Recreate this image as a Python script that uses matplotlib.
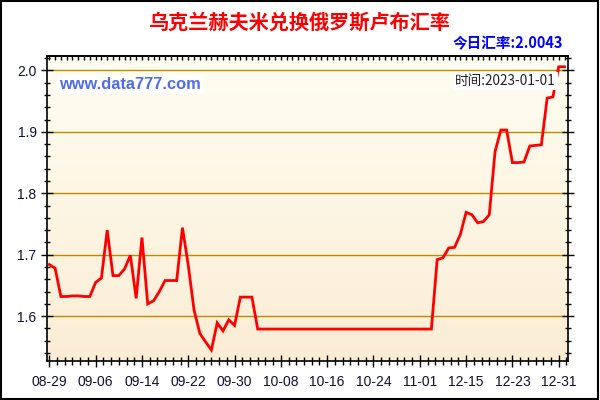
import numpy as np
import matplotlib
matplotlib.use("Agg")
import matplotlib.pyplot as plt
from matplotlib.patches import Rectangle
from matplotlib.ticker import MultipleLocator, FixedLocator

plt.rcParams['font.family'] = ['Noto Sans CJK SC', 'DejaVu Sans']

# daily rates, 08-29 .. 11-01, a few days after, then 12-15 .. 01-01
rates = [
    1.684, 1.678, 1.632, 1.632, 1.633, 1.633, 1.632, 1.632, 1.655, 1.662,
    1.740, 1.666, 1.666, 1.677, 1.699, 1.629, 1.728, 1.620, 1.625, 1.640,
    1.658, 1.658, 1.658, 1.744, 1.683, 1.610, 1.572, 1.558, 1.545, 1.589,
    1.576, 1.594, 1.585, 1.631, 1.631, 1.631, 1.579, 1.579, 1.579, 1.579,
    1.579, 1.579, 1.579, 1.579, 1.579, 1.579, 1.579, 1.579, 1.579, 1.579,
    1.579, 1.579, 1.579, 1.579, 1.579, 1.579, 1.579, 1.579, 1.579, 1.579,
    1.579, 1.579, 1.579, 1.579, 1.579, 1.579, 1.579, 1.692, 1.695, 1.711,
    1.712, 1.733, 1.769, 1.765, 1.752, 1.754, 1.765, 1.868, 1.903, 1.903,
    1.850, 1.850, 1.851, 1.877, 1.878, 1.879, 1.955, 1.957, 2.006, 2.006,
]
date_labels = ['08-29', '09-06', '09-14', '09-22', '09-30', '10-08',
               '10-16', '10-24', '11-01', '12-15', '12-23', '12-31']
title = '乌克兰赫夫米兑换俄罗斯卢布汇率'
today_rate = '今日汇率:2.0043'
time_text = '时间:2023-01-01'
site = 'www.data777.com'

x = np.arange(len(rates))

fig = plt.figure(figsize=(6, 4), dpi=100)
fig.patch.set_facecolor('white')
ax = fig.add_axes([47/600, 1-361/400, (568-47)/600, (361-55.7)/400])

xmin, xmax = -0.4, 89.6
ymin, ymax = 1.527, 2.024
ax.set_xlim(xmin, xmax)
ax.set_ylim(ymin, ymax)

# background gradient
grad = np.linspace(0, 1, 256).reshape(-1, 1)
top_c = np.array([255, 254, 242]) / 255
bot_c = np.array([251, 237, 213]) / 255
img = top_c + (bot_c - top_c) * grad[:, :, None] * np.ones((1, 2, 1))
ax.imshow(img, extent=[xmin, xmax, ymin, ymax], aspect='auto', origin='upper', zorder=0)

for yv in [1.6, 1.7, 1.8, 1.9, 2.0]:
    ax.axhline(yv, color='#BA8A00', lw=1.0, zorder=1)

ax.plot(x, rates, color='#FF0000', lw=2.0, zorder=3, solid_joinstyle='miter')

for s in ax.spines.values():
    s.set_color('black')
    s.set_linewidth(1.2)

ax.yaxis.set_major_locator(MultipleLocator(0.1))
ax.yaxis.set_minor_locator(MultipleLocator(0.02))
ax.set_yticks([1.6, 1.7, 1.8, 1.9, 2.0])
ax.set_yticklabels(['1.6', '1.7', '1.8', '1.9', '2.0'], fontsize=10, family='Liberation Sans', color='#111133')
ax.tick_params(axis='y', which='major', direction='inout', length=8, width=1, left=True, right=True)
ax.tick_params(axis='y', which='minor', direction='inout', length=5, width=1, left=True, right=True)

ax.xaxis.set_major_locator(FixedLocator(np.arange(0, 89, 8)))
ax.set_xticklabels(date_labels, fontsize=10, family='Liberation Sans', color='#111133')
ax.xaxis.set_minor_locator(FixedLocator(np.arange(0, 90, 4/3)))
ax.tick_params(axis='x', which='major', direction='inout', length=8, width=1, pad=6)
ax.tick_params(axis='x', which='minor', direction='inout', length=6, width=1)

# top edge small ticks
ax2 = ax.secondary_xaxis('top')
ax2.set_xticks(np.arange(0, 90, 1))
ax2.set_xticklabels([])
ax2.tick_params(direction='in', length=3, width=1)
ax2.spines['top'].set_linewidth(1.2)

fig.text(0.5, 1-22/400, title, color='#FF0000', fontsize=14.5, fontweight='bold',
         ha='center', va='center')
fig.text(563/600, 1-43/400, today_rate, color='#0000FF', fontsize=10.5, fontweight='bold',
         ha='right', va='center')
ax.text(0.024, 0.906, site, transform=ax.transAxes, color='#4F6BEF', fontsize=11.8,
        fontweight='bold', family='Liberation Sans', ha='left', va='center',
        bbox=dict(facecolor='white', edgecolor='none', pad=1.5), zorder=4)
ax.text(0.977, 0.917, time_text, transform=ax.transAxes, color='#222222', fontsize=9.8,
        ha='right', va='center',
        bbox=dict(facecolor='white', edgecolor='none', pad=1.2), zorder=4)

fig.patches.append(Rectangle((0.001, 0.002), 0.996, 0.995, transform=fig.transFigure,
                             fill=False, edgecolor='black', lw=1.5))

fig.savefig('out.png', dpi=100)
